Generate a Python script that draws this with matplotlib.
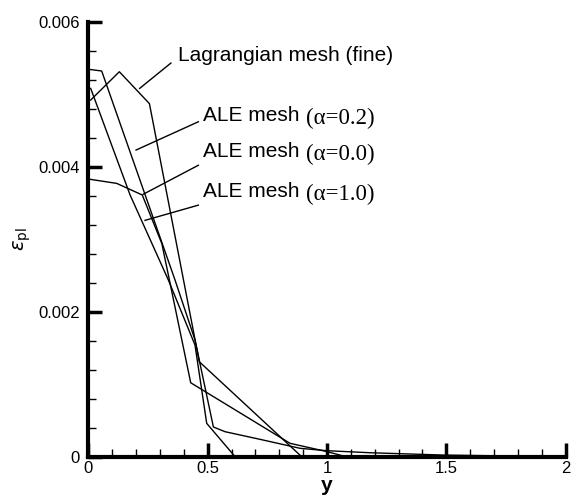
import matplotlib
matplotlib.use("Agg")
import matplotlib.pyplot as plt
from matplotlib.ticker import MultipleLocator, FuncFormatter

# curve data
lag_y = [0.01, 0.13, 0.256, 0.465, 0.894, 2.0]
lag_e = [0.00492, 0.00531, 0.00487, 0.00131, 0.0, 0.0]

a02_y = [0.01, 0.056, 0.363, 0.447, 0.524, 0.573, 0.719, 0.887, 0.999, 1.18, 1.486, 1.68, 2.0]
a02_e = [0.00534, 0.00532, 0.00244, 0.00161, 0.00041, 0.000345, 0.00024, 0.000116,
         0.000083, 0.000055, 0.000023, 0.000014, 0.0]

a00_y = [0.0, 0.119, 0.226, 0.308, 0.429, 0.845, 1.0, 1.08, 2.0]
a00_e = [0.00383, 0.00377, 0.00361, 0.00294, 0.00102, 0.000185, 0.00007, 0.0, 0.0]

a10_y = [0.01, 0.175, 0.335, 0.447, 0.496, 0.615, 2.0]
a10_e = [0.00508, 0.00361, 0.00244, 0.00154, 0.00046, 0.0, 0.0]

labels = ["Lagrangian mesh (fine)", "ALE mesh", "ALE mesh", "ALE mesh"]
alphas = ["", "(\u03b1=0.2)", "(\u03b1=0.0)", "(\u03b1=1.0)"]


def main():
    fig = plt.figure(figsize=(5.75, 4.98), dpi=100)
    ax = fig.add_axes([0.1536, 0.0829, 0.8302, 0.8735])

    for xs, ys in [(lag_y, lag_e), (a02_y, a02_e), (a00_y, a00_e), (a10_y, a10_e)]:
        ax.plot(xs, ys, color="black", lw=1.0, clip_on=False)

    ax.set_xlim(0, 2)
    ax.set_ylim(0, 0.006)

    for s in ["top", "right"]:
        ax.spines[s].set_visible(False)
    for s in ["left", "bottom"]:
        ax.spines[s].set_linewidth(3)

    ax.xaxis.set_major_locator(MultipleLocator(0.5))
    ax.xaxis.set_minor_locator(MultipleLocator(0.1))
    ax.yaxis.set_major_locator(MultipleLocator(0.002))
    ax.yaxis.set_minor_locator(MultipleLocator(0.0004))
    ax.tick_params(which="major", direction="in", length=10, width=2.5,
                   labelsize=12, pad=6)
    ax.tick_params(axis="x", which="major", pad=3)
    ax.tick_params(which="minor", direction="in", length=6, width=1)
    ax.xaxis.set_major_formatter(FuncFormatter(lambda v, p: "%g" % v))
    ax.yaxis.set_major_formatter(FuncFormatter(lambda v, p: "0" if v == 0 else "%.3f" % v))
    for t in ax.get_xticklabels() + ax.get_yticklabels():
        t.set_family("Liberation Sans")

    ax.set_xlabel("y", fontsize=15, fontweight="bold", family="Liberation Sans", labelpad=0)
    ax.set_ylabel(r"$\varepsilon_{\mathrm{pl}}$", fontsize=14, labelpad=4)

    # leader lines: (start, end) in data coords
    leaders = [((0.346, 0.00543), (0.215, 0.00508)),
               ((0.461, 0.00462), (0.200, 0.00423)),
               ((0.461, 0.00402), (0.230, 0.00362)),
               ((0.461, 0.00347), (0.2375, 0.00326))]
    for (x0, y0), (x1, y1) in leaders:
        ax.plot([x0, x1], [y0, y1], color="black", lw=1.0)

    ax.text(0.377, 0.00554, labels[0], fontsize=15, family="Liberation Sans", va="center")
    for i, yy in zip([1, 2, 3], [0.00471, 0.00421, 0.003655]):
        ax.text(0.482, yy, labels[i], fontsize=15, family="Liberation Sans", va="center")
        ax.text(0.91, yy - 0.00004, alphas[i], fontsize=16.5, family="Liberation Serif", va="center")

    fig.savefig("out.png", dpi=100)


if __name__ == "__main__":
    main()
